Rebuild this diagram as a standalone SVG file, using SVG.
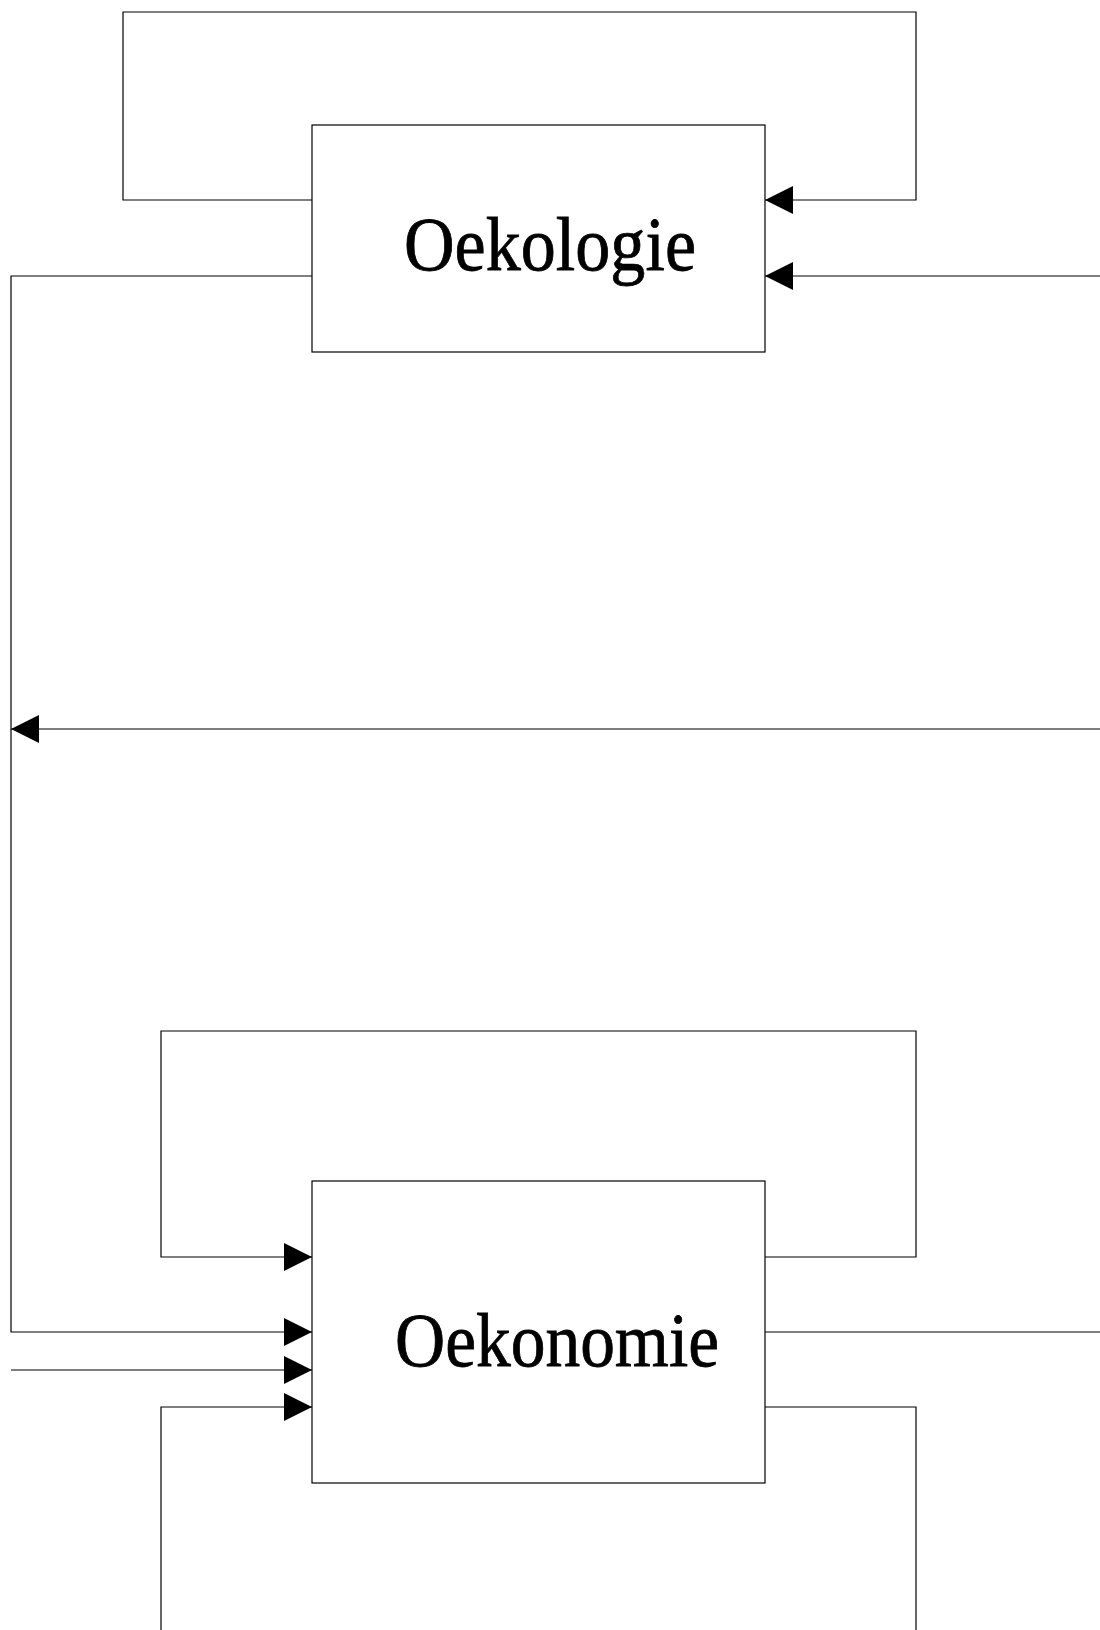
<svg xmlns="http://www.w3.org/2000/svg" width="1100" height="1630" viewBox="0 0 1100 1630">
<style>
.box{fill:#fff;stroke:#000;stroke-width:1.2}
.lbl{font-family:"Liberation Serif","Times New Roman",serif;font-size:77px;fill:#000;stroke:#000;stroke-width:0.8}
.c{fill:none;stroke:#000;stroke-width:1.2}
.a{marker-end:url(#arr)}
</style>
<defs>
<marker id="arr" markerUnits="userSpaceOnUse" markerWidth="28" markerHeight="28" viewBox="0 0 28 28" refX="28" refY="14" orient="auto">
<path d="M0,0 L28,14 L0,28 Z" fill="#000"/>
</marker>
</defs>
<g id="connectors">
<path class="c a" d="M312,200 H123 V12 H916 V200 H765"/>
<path class="c a" d="M1100,276 H765"/>
<path class="c a" d="M312,276 H11 V1332 H312"/>
<path class="c a" d="M1100,729 H11"/>
<path class="c a" d="M765,1257 H916 V1031 H161 V1257 H312"/>
<path class="c" d="M765,1332 H1100"/>
<path class="c a" d="M11,1370 H312"/>
<path class="c" d="M765,1407 H916 V1630"/>
<path class="c a" d="M161,1630 V1407 H312"/>
</g>
<g id="oekologie">
<rect class="box" x="312" y="125" width="453" height="227"/>
<text class="lbl" x="404" y="270" textLength="292" lengthAdjust="spacingAndGlyphs">Oekologie</text>
</g>
<g id="oekonomie">
<rect class="box" x="312" y="1181" width="453" height="302"/>
<text class="lbl" x="395" y="1366" textLength="324" lengthAdjust="spacingAndGlyphs">Oekonomie</text>
</g>
</svg>
